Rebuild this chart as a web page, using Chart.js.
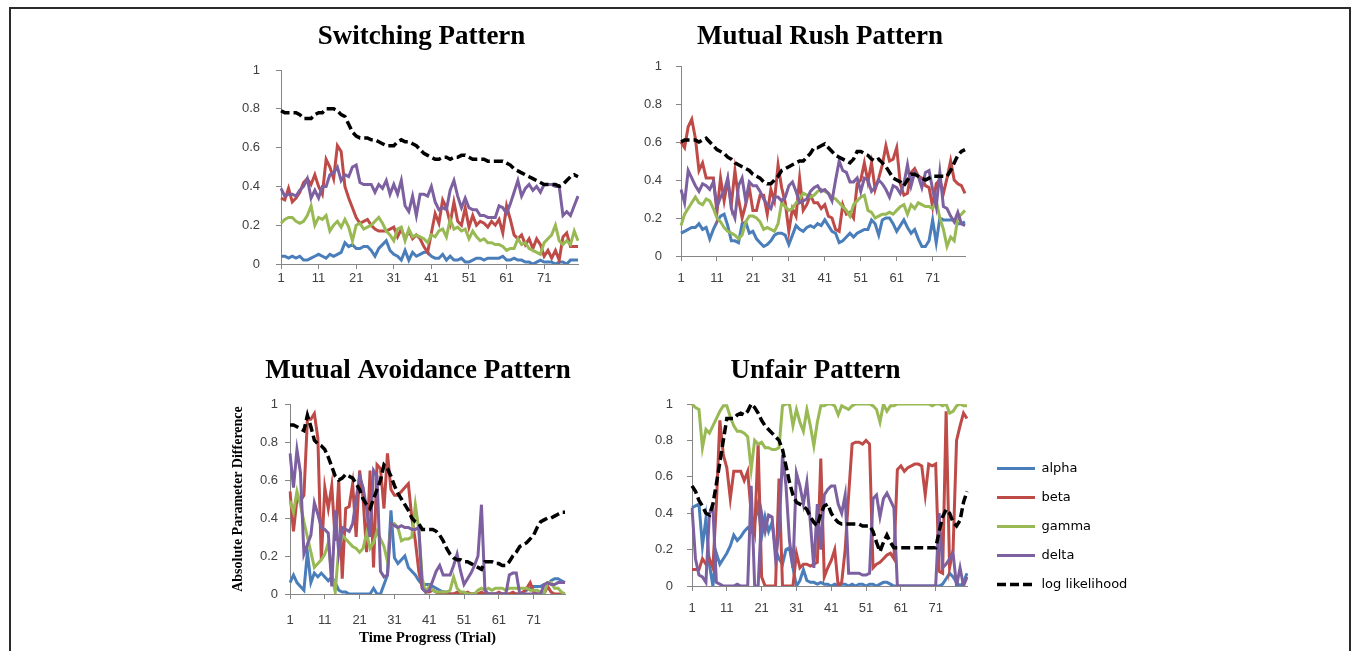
<!DOCTYPE html>
<html>
<head>
<meta charset="utf-8">
<script src="https://cdn.jsdelivr.net/npm/chart.js@4.4.0/dist/chart.umd.min.js"></script>
<style>
  html, body { margin: 0; padding: 0; background: #fff; }
  body { width: 1358px; height: 651px; position: relative; overflow: hidden; }
  .frame { position: absolute; left: 9px; top: 7px; width: 1342px; height: 700px; border: 2px solid #2b2b2b; box-sizing: border-box; }
  .panel { position: absolute; }
</style>
</head>
<body>
<div class="frame"></div>
<div class="panel" style="left:235px;top:12px;width:373px;height:282px"><canvas id="switchingChart"></canvas></div>
<div class="panel" style="left:635px;top:12px;width:370px;height:279px"><canvas id="rushChart"></canvas></div>
<div class="panel" style="left:228px;top:346px;width:380px;height:305px"><canvas id="avoidChart"></canvas></div>
<div class="panel" style="left:646px;top:346px;width:339px;height:275px"><canvas id="unfairChart"></canvas></div>
<div class="panel" style="left:981px;top:446px;width:360px;height:180px"><canvas id="legendChart"></canvas></div>

<script>
// trial numbers on the x axis
const trials = ['1','2','3','4','5','6','7','8','9','10','11','12','13','14','15','16','17','18','19','20',
  '21','22','23','24','25','26','27','28','29','30','31','32','33','34','35','36','37','38','39','40',
  '41','42','43','44','45','46','47','48','49','50','51','52','53','54','55','56','57','58','59','60',
  '61','62','63','64','65','66','67','68','69','70','71','72','73','74','75','76','77','78','79','80'];

// Switching Pattern
const swAlpha = [0.04, 0.04, 0.03, 0.04, 0.03, 0.04, 0.02, 0.02, 0.03, 0.04,
  0.05, 0.04, 0.03, 0.05, 0.04, 0.05, 0.06, 0.11, 0.09, 0.10,
  0.08, 0.08, 0.09, 0.09, 0.07, 0.04, 0.08, 0.10, 0.12, 0.07,
  0.05, 0.04, 0.02, 0.07, 0.02, 0.06, 0.04, 0.05, 0.06, 0.06,
  0.04, 0.03, 0.03, 0.05, 0.02, 0.04, 0.02, 0.02, 0.03, 0.01,
  0.01, 0.02, 0.03, 0.03, 0.02, 0.03, 0.03, 0.03, 0.03, 0.04,
  0.02, 0.02, 0.03, 0.02, 0.02, 0.01, 0.01, 0.00, 0.01, 0.02,
  0.01, 0.01, 0.01, 0.00, 0.01, 0.01, 0.00, 0.02, 0.02, 0.02];
const swBeta = [0.34, 0.33, 0.39, 0.32, 0.34, 0.37, 0.42, 0.44, 0.41, 0.46,
  0.40, 0.36, 0.54, 0.50, 0.44, 0.61, 0.58, 0.40, 0.34, 0.29,
  0.24, 0.21, 0.22, 0.23, 0.20, 0.18, 0.17, 0.17, 0.17, 0.18,
  0.19, 0.14, 0.18, 0.13, 0.17, 0.13, 0.15, 0.13, 0.09, 0.06,
  0.16, 0.26, 0.21, 0.33, 0.29, 0.21, 0.32, 0.22, 0.20, 0.29,
  0.19, 0.25, 0.20, 0.22, 0.21, 0.19, 0.22, 0.20, 0.23, 0.16,
  0.30, 0.23, 0.15, 0.13, 0.15, 0.10, 0.13, 0.08, 0.13, 0.10,
  0.04, 0.07, 0.03, 0.07, 0.02, 0.14, 0.16, 0.09, 0.09, 0.09];
const swGamma = [0.21, 0.23, 0.24, 0.24, 0.22, 0.21, 0.22, 0.25, 0.30, 0.20,
  0.24, 0.23, 0.25, 0.17, 0.20, 0.22, 0.19, 0.23, 0.19, 0.12,
  0.20, 0.21, 0.18, 0.19, 0.20, 0.22, 0.24, 0.21, 0.17, 0.15,
  0.12, 0.18, 0.19, 0.12, 0.18, 0.14, 0.15, 0.14, 0.13, 0.11,
  0.15, 0.14, 0.17, 0.18, 0.14, 0.23, 0.18, 0.19, 0.17, 0.18,
  0.13, 0.17, 0.14, 0.12, 0.13, 0.11, 0.11, 0.10, 0.10, 0.09,
  0.07, 0.08, 0.08, 0.13, 0.10, 0.11, 0.08, 0.07, 0.06, 0.05,
  0.11, 0.13, 0.15, 0.20, 0.12, 0.10, 0.12, 0.10, 0.17, 0.12];
const swDelta = [0.39, 0.35, 0.36, 0.36, 0.35, 0.38, 0.40, 0.44, 0.34, 0.38,
  0.34, 0.40, 0.40, 0.46, 0.47, 0.50, 0.43, 0.46, 0.45, 0.50,
  0.51, 0.42, 0.41, 0.41, 0.41, 0.37, 0.41, 0.39, 0.43, 0.36,
  0.41, 0.36, 0.43, 0.30, 0.27, 0.35, 0.25, 0.36, 0.36, 0.35,
  0.40, 0.32, 0.28, 0.29, 0.28, 0.38, 0.43, 0.35, 0.29, 0.34,
  0.29, 0.28, 0.28, 0.25, 0.25, 0.24, 0.24, 0.24, 0.30, 0.29,
  0.26, 0.31, 0.37, 0.43, 0.35, 0.39, 0.41, 0.38, 0.40, 0.37,
  0.41, 0.41, 0.41, 0.40, 0.40, 0.25, 0.27, 0.25, 0.30, 0.35];
const swLogLik = [0.79, 0.78, 0.78, 0.78, 0.78, 0.77, 0.75, 0.75, 0.75, 0.77,
  0.78, 0.78, 0.80, 0.80, 0.80, 0.79, 0.77, 0.76, 0.72, 0.68,
  0.66, 0.65, 0.65, 0.65, 0.64, 0.64, 0.63, 0.62, 0.61, 0.61,
  0.61, 0.63, 0.64, 0.63, 0.63, 0.62, 0.61, 0.59, 0.57, 0.56,
  0.55, 0.54, 0.54, 0.55, 0.55, 0.54, 0.55, 0.55, 0.56, 0.56,
  0.55, 0.54, 0.54, 0.54, 0.54, 0.53, 0.53, 0.53, 0.53, 0.53,
  0.52, 0.51, 0.49, 0.48, 0.47, 0.46, 0.45, 0.44, 0.43, 0.42,
  0.41, 0.41, 0.41, 0.41, 0.40, 0.41, 0.43, 0.45, 0.46, 0.45];

// Mutual Rush Pattern
const ruAlpha = [0.12, 0.13, 0.14, 0.15, 0.15, 0.17, 0.14, 0.15, 0.09, 0.14,
  0.18, 0.21, 0.22, 0.16, 0.08, 0.08, 0.07, 0.17, 0.18, 0.12,
  0.13, 0.09, 0.07, 0.05, 0.06, 0.08, 0.11, 0.12, 0.12, 0.11,
  0.06, 0.11, 0.16, 0.14, 0.13, 0.15, 0.16, 0.15, 0.17, 0.16,
  0.19, 0.16, 0.13, 0.12, 0.07, 0.08, 0.10, 0.12, 0.10, 0.12,
  0.13, 0.14, 0.14, 0.19, 0.17, 0.11, 0.19, 0.20, 0.20, 0.17,
  0.13, 0.16, 0.19, 0.15, 0.12, 0.14, 0.09, 0.05, 0.05, 0.08,
  0.19, 0.07, 0.20, 0.19, 0.19, 0.19, 0.19, 0.17, 0.17, 0.18];
const ruBeta = [0.60, 0.57, 0.68, 0.72, 0.62, 0.45, 0.49, 0.41, 0.41, 0.41,
  0.23, 0.41, 0.29, 0.40, 0.27, 0.45, 0.30, 0.20, 0.27, 0.36,
  0.24, 0.24, 0.32, 0.32, 0.22, 0.35, 0.29, 0.48, 0.36, 0.28,
  0.13, 0.25, 0.21, 0.41, 0.24, 0.27, 0.32, 0.28, 0.28, 0.25,
  0.27, 0.21, 0.20, 0.14, 0.13, 0.27, 0.22, 0.23, 0.20, 0.38,
  0.40, 0.49, 0.39, 0.49, 0.35, 0.41, 0.48, 0.58, 0.50, 0.51,
  0.57, 0.38, 0.32, 0.33, 0.44, 0.46, 0.42, 0.41, 0.37, 0.36,
  0.26, 0.38, 0.40, 0.33, 0.41, 0.50, 0.40, 0.38, 0.37, 0.33];
const ruGamma = [0.16, 0.22, 0.25, 0.28, 0.31, 0.28, 0.27, 0.30, 0.29, 0.25,
  0.20, 0.18, 0.15, 0.13, 0.12, 0.11, 0.09, 0.11, 0.18, 0.21,
  0.21, 0.20, 0.18, 0.14, 0.15, 0.14, 0.13, 0.17, 0.28, 0.26,
  0.24, 0.25, 0.28, 0.30, 0.33, 0.32, 0.31, 0.32, 0.34, 0.35,
  0.34, 0.33, 0.31, 0.30, 0.28, 0.26, 0.24, 0.21, 0.27, 0.29,
  0.31, 0.32, 0.24, 0.23, 0.20, 0.21, 0.22, 0.22, 0.23, 0.22,
  0.24, 0.26, 0.27, 0.22, 0.27, 0.25, 0.28, 0.27, 0.26, 0.26,
  0.25, 0.29, 0.20, 0.14, 0.05, 0.10, 0.08, 0.20, 0.22, 0.24];
const ruDelta = [0.35, 0.28, 0.45, 0.41, 0.37, 0.34, 0.38, 0.37, 0.35, 0.39,
  0.26, 0.31, 0.34, 0.41, 0.25, 0.20, 0.37, 0.41, 0.29, 0.39,
  0.37, 0.37, 0.34, 0.30, 0.27, 0.25, 0.31, 0.31, 0.29, 0.31,
  0.37, 0.39, 0.34, 0.28, 0.29, 0.30, 0.34, 0.36, 0.37, 0.34,
  0.35, 0.33, 0.29, 0.40, 0.50, 0.45, 0.44, 0.39, 0.39, 0.41,
  0.34, 0.41, 0.40, 0.34, 0.36, 0.40, 0.38, 0.35, 0.31, 0.37,
  0.36, 0.33, 0.38, 0.48, 0.37, 0.44, 0.42, 0.36, 0.44, 0.45,
  0.35, 0.26, 0.44, 0.26, 0.25, 0.21, 0.18, 0.23, 0.17, 0.16];
const ruLogLik = [0.60, 0.61, 0.61, 0.61, 0.61, 0.60, 0.61, 0.62, 0.60, 0.58,
  0.56, 0.55, 0.54, 0.52, 0.51, 0.49, 0.48, 0.47, 0.46, 0.45,
  0.43, 0.42, 0.41, 0.39, 0.38, 0.38, 0.40, 0.42, 0.45, 0.46,
  0.47, 0.48, 0.49, 0.50, 0.50, 0.52, 0.54, 0.57, 0.57, 0.58,
  0.59, 0.57, 0.55, 0.53, 0.52, 0.51, 0.50, 0.49, 0.51, 0.55,
  0.55, 0.54, 0.53, 0.51, 0.50, 0.51, 0.49, 0.47, 0.44, 0.41,
  0.40, 0.39, 0.37, 0.40, 0.43, 0.43, 0.42, 0.41, 0.40, 0.41,
  0.42, 0.42, 0.42, 0.42, 0.42, 0.45, 0.49, 0.53, 0.55, 0.56];

// Mutual Avoidance Pattern
const avAlpha = [0.06, 0.10, 0.06, 0.04, 0.02, 0.22, 0.06, 0.11, 0.09, 0.11,
  0.09, 0.07, 0.09, 0.06, 0.02, 0.01, 0.01, 0.00, 0.00, 0.00,
  0.00, 0.00, 0.00, 0.00, 0.03, 0.00, 0.00, 0.05, 0.10, 0.44,
  0.19, 0.16, 0.18, 0.20, 0.14, 0.12, 0.10, 0.07, 0.05, 0.05,
  0.05, 0.04, 0.03, 0.02, 0.01, 0.01, 0.00, 0.00, 0.00, 0.00,
  0.00, 0.00, 0.00, 0.00, 0.00, 0.00, 0.00, 0.00, 0.00, 0.00,
  0.00, 0.00, 0.00, 0.00, 0.00, 0.00, 0.00, 0.01, 0.02, 0.03,
  0.04, 0.04, 0.04, 0.05, 0.05, 0.07, 0.08, 0.08, 0.07, 0.06];
const avBeta = [0.54, 0.33, 0.50, 0.49, 0.52, 0.92, 0.92, 0.95, 0.82, 0.18,
  0.56, 0.45, 0.57, 0.28, 0.60, 0.08, 0.45, 0.46, 0.58, 0.30,
  0.65, 0.50, 0.22, 0.65, 0.14, 0.68, 0.66, 0.45, 0.74, 0.55,
  0.52, 0.52, 0.54, 0.56, 0.58, 0.40, 0.28, 0.12, 0.03, 0.01,
  0.01, 0.02, 0.01, 0.00, 0.01, 0.00, 0.00, 0.00, 0.01, 0.00,
  0.00, 0.01, 0.00, 0.00, 0.00, 0.01, 0.00, 0.00, 0.00, 0.00,
  0.01, 0.00, 0.00, 0.00, 0.01, 0.00, 0.00, 0.01, 0.03, 0.06,
  0.01, 0.00, 0.00, 0.00, 0.04, 0.01, 0.00, 0.00, 0.00, 0.00];
const avGamma = [0.49, 0.43, 0.54, 0.47, 0.38, 0.30, 0.22, 0.14, 0.16, 0.18,
  0.21, 0.27, 0.10, 0.01, 0.24, 0.31, 0.29, 0.27, 0.25, 0.24,
  0.22, 0.24, 0.32, 0.24, 0.27, 0.33, 0.29, 0.25, 0.17, 0.36,
  0.37, 0.35, 0.28, 0.29, 0.29, 0.30, 0.47, 0.34, 0.08, 0.01,
  0.04, 0.02, 0.01, 0.01, 0.01, 0.01, 0.02, 0.09, 0.03, 0.01,
  0.01, 0.00, 0.00, 0.00, 0.02, 0.03, 0.02, 0.03, 0.02, 0.03,
  0.03, 0.03, 0.02, 0.03, 0.03, 0.03, 0.03, 0.03, 0.03, 0.02,
  0.02, 0.02, 0.01, 0.00, 0.06, 0.06, 0.03, 0.03, 0.01, 0.00];
const avDelta = [0.74, 0.56, 0.76, 0.64, 0.21, 0.26, 0.31, 0.48, 0.42, 0.35,
  0.34, 0.32, 0.04, 0.44, 0.22, 0.35, 0.34, 0.33, 0.37, 0.50,
  0.62, 0.56, 0.45, 0.30, 0.65, 0.62, 0.12, 0.09, 0.10, 0.37,
  0.36, 0.35, 0.36, 0.35, 0.35, 0.34, 0.34, 0.35, 0.03, 0.01,
  0.02, 0.07, 0.12, 0.15, 0.10, 0.10, 0.10, 0.15, 0.21, 0.12,
  0.05, 0.08, 0.11, 0.15, 0.20, 0.47, 0.02, 0.00, 0.00, 0.00,
  0.00, 0.00, 0.00, 0.10, 0.11, 0.11, 0.00, 0.00, 0.00, 0.00,
  0.00, 0.00, 0.00, 0.05, 0.06, 0.05, 0.05, 0.06, 0.06, 0.06];
const avLogLik = [0.89, 0.89, 0.88, 0.87, 0.86, 0.94, 0.88, 0.81, 0.79, 0.78,
  0.76, 0.72, 0.67, 0.62, 0.60, 0.61, 0.63, 0.62, 0.61, 0.58,
  0.55, 0.50, 0.47, 0.45, 0.50, 0.55, 0.60, 0.68, 0.66, 0.62,
  0.57, 0.53, 0.50, 0.47, 0.44, 0.40, 0.38, 0.37, 0.34, 0.34,
  0.34, 0.34, 0.33, 0.31, 0.28, 0.24, 0.21, 0.19, 0.18, 0.18,
  0.17, 0.17, 0.16, 0.15, 0.14, 0.13, 0.17, 0.17, 0.17, 0.16,
  0.16, 0.15, 0.15, 0.17, 0.20, 0.22, 0.25, 0.26, 0.27, 0.29,
  0.31, 0.35, 0.38, 0.39, 0.40, 0.40, 0.41, 0.42, 0.43, 0.43];

// Unfair Pattern
const unAlpha = [0.43, 0.44, 0.45, 0.22, 0.37, 0.12, 0.00, 0.18, 0.12, 0.15,
  0.18, 0.22, 0.28, 0.25, 0.27, 0.30, 0.32, 0.30, 0.35, 0.45,
  0.27, 0.38, 0.30, 0.35, 0.20, 0.15, 0.12, 0.20, 0.21, 0.10,
  0.00, 0.03, 0.09, 0.03, 0.02, 0.02, 0.01, 0.02, 0.01, 0.01,
  0.00, 0.01, 0.00, 0.01, 0.01, 0.00, 0.01, 0.00, 0.01, 0.01,
  0.00, 0.01, 0.01, 0.00, 0.01, 0.02, 0.02, 0.01, 0.00, 0.00,
  0.00, 0.00, 0.00, 0.00, 0.00, 0.00, 0.00, 0.00, 0.00, 0.00,
  0.00, 0.00, 0.01, 0.04, 0.07, 0.05, 0.02, 0.00, 0.02, 0.07];
const unBeta = [0.09, 0.09, 0.09, 0.15, 0.12, 0.15, 0.10, 0.45, 0.91, 0.72,
  0.65, 0.48, 0.63, 0.63, 0.63, 0.58, 0.63, 0.40, 0.30, 0.78,
  0.05, 0.00, 0.00, 0.00, 0.00, 0.59, 0.00, 0.00, 0.00, 0.00,
  0.18, 0.10, 0.12, 0.12, 0.11, 0.12, 0.13, 0.70, 0.05, 0.10,
  0.14, 0.20, 0.00, 0.02, 0.20, 0.50, 0.78, 0.79, 0.79, 0.78,
  0.80, 0.78, 0.10, 0.12, 0.13, 0.15, 0.17, 0.18, 0.15, 0.64,
  0.66, 0.63, 0.65, 0.66, 0.67, 0.67, 0.66, 0.50, 0.67, 0.66,
  0.67, 0.08, 0.07, 0.96, 0.10, 0.20, 0.80, 0.88, 0.95, 0.92];
const unGamma = [1.00, 0.98, 0.97, 0.76, 0.86, 0.84, 0.88, 0.92, 0.96, 0.99,
  0.99, 0.93, 0.88, 0.85, 0.85, 0.84, 0.82, 0.64, 0.80, 0.78,
  0.79, 0.76, 0.76, 0.75, 0.75, 0.76, 0.99, 1.00, 1.00, 0.88,
  0.97, 0.90, 0.85, 0.97, 0.88, 0.77, 0.90, 0.99, 0.99, 1.00,
  1.00, 0.99, 0.94, 0.99, 0.98, 0.97, 0.99, 1.00, 1.00, 1.00,
  1.00, 1.00, 0.99, 0.97, 0.90, 1.00, 0.96, 0.99, 0.99, 1.00,
  1.00, 1.00, 1.00, 1.00, 1.00, 1.00, 1.00, 1.00, 1.00, 0.99,
  1.00, 1.00, 0.99, 1.00, 0.95, 0.96, 0.99, 1.00, 0.99, 0.99];
const unDelta = [0.43, 0.15, 0.06, 0.05, 0.02, 0.40, 0.43, 0.02, 0.01, 0.00,
  0.00, 0.00, 0.00, 0.01, 0.00, 0.00, 0.00, 0.55, 0.00, 0.00,
  0.40, 0.30, 0.39, 0.38, 0.15, 0.30, 0.72, 0.55, 0.25, 0.10,
  0.62, 0.55, 0.45, 0.57, 0.35, 0.10, 0.45, 0.20, 0.50, 0.53,
  0.55, 0.55, 0.45, 0.40, 0.50, 0.07, 0.07, 0.07, 0.07, 0.06,
  0.06, 0.07, 0.48, 0.50, 0.38, 0.48, 0.51, 0.47, 0.43, 0.00,
  0.00, 0.00, 0.00, 0.00, 0.00, 0.00, 0.00, 0.00, 0.00, 0.00,
  0.00, 0.40, 0.10, 0.12, 0.15, 0.18, 0.00, 0.10, 0.00, 0.05];
const unLogLik = [0.55, 0.52, 0.47, 0.44, 0.40, 0.39, 0.45, 0.56, 0.68, 0.80,
  0.92, 0.92, 0.92, 0.94, 0.95, 0.94, 0.96, 1.00, 0.98, 0.95,
  0.91, 0.88, 0.86, 0.84, 0.82, 0.80, 0.75, 0.66, 0.57, 0.50,
  0.46, 0.45, 0.44, 0.42, 0.38, 0.35, 0.33, 0.40, 0.44, 0.45,
  0.40, 0.37, 0.35, 0.34, 0.34, 0.34, 0.34, 0.34, 0.34, 0.33,
  0.33, 0.33, 0.30, 0.24, 0.19, 0.24, 0.28, 0.24, 0.21, 0.21,
  0.21, 0.21, 0.21, 0.21, 0.21, 0.21, 0.21, 0.21, 0.21, 0.21,
  0.21, 0.30, 0.38, 0.42, 0.40, 0.35, 0.33, 0.36, 0.46, 0.52];

const seriesNames = ['alpha', 'beta', 'gamma', 'delta', 'log likelihood'];
const seriesColors = ['#4a7ebb', '#be4b48', '#98b954', '#7d60a0', '#000000'];

Chart.defaults.font.family = "'Liberation Sans', Arial, sans-serif";
Chart.defaults.font.size = 13;
Chart.defaults.color = '#404040';
Chart.defaults.animation = false;

const serifBold = "'Liberation Serif', 'Times New Roman', serif";
const axisGrey = '#868686';

function buildDatasets(values) {
  return values.map((data, i) => ({
    label: seriesNames[i],
    data: data,
    borderColor: seriesColors[i],
    backgroundColor: seriesColors[i],
    borderWidth: i === 4 ? 3.5 : 3,
    borderDash: i === 4 ? [9, 4] : [],
    pointRadius: 0,
    fill: false,
    tension: 0,
    order: 5 - i   // later series drawn on top, like the original
  }));
}

function drawPanel(canvasId, title, values, opts) {
  new Chart(document.getElementById(canvasId), {
    type: 'line',
    data: { labels: trials, datasets: buildDatasets(values) },
    options: {
      responsive: true,
      maintainAspectRatio: false,
      layout: { padding: 0 },
      plugins: {
        legend: { display: false },
        tooltip: { enabled: false },
        title: {
          display: true,
          text: title,
          color: '#000',
          font: { family: serifBold, size: 27, weight: 'bold' },
          padding: { top: 9, bottom: opts.titleGap }
        }
      },
      scales: {
        x: {
          grid: { drawOnChartArea: false, color: axisGrey, tickLength: 5 },
          border: { color: axisGrey },
          ticks: {
            autoSkip: false,
            maxRotation: 0,
            padding: opts.xPad,
            callback: (value, index) => index % 10 === 0 ? trials[index] : null
          },
          title: opts.xTitle ? {
            display: true,
            text: opts.xTitle,
            color: '#000',
            font: { family: serifBold, size: 15, weight: 'bold' },
            padding: { top: 0, bottom: 4 }
          } : { display: false },
          afterFit: s => { s.height = opts.xHeight; }
        },
        y: {
          min: 0,
          max: 1,
          ticks: {
            stepSize: 0.2,
            padding: opts.yPad,
            callback: value => String(Number(value.toFixed(1)))
          },
          grid: { drawOnChartArea: false, color: axisGrey, tickLength: 5 },
          border: { color: axisGrey },
          title: opts.yTitle ? {
            display: true,
            text: opts.yTitle,
            color: '#000',
            font: { family: serifBold, size: 14, weight: 'bold' },
            padding: { top: 1.6, bottom: 0 }
          } : { display: false },
          afterFit: s => { s.width = opts.yWidth; }
        },
        // empty right-hand spacer so the title sits where it did in the original
        spacer: {
          type: 'linear',
          position: 'right',
          display: true,
          ticks: { display: false },
          grid: { display: false },
          border: { display: false },
          afterFit: s => { s.width = opts.rightSpace; }
        }
      }
    }
  });
}

drawPanel('switchingChart', 'Switching Pattern',
  [swAlpha, swBeta, swGamma, swDelta, swLogLik],
  { yWidth: 46, rightSpace: 30, titleGap: 16.6, xHeight: 30, xPad: 2, yPad: 16 });

drawPanel('rushChart', 'Mutual Rush Pattern',
  [ruAlpha, ruBeta, ruGamma, ruDelta, ruLogLik],
  { yWidth: 46, rightSpace: 40, titleGap: 12.6, xHeight: 35, xPad: 10, yPad: 14 });

drawPanel('avoidChart', 'Mutual Avoidance Pattern',
  [avAlpha, avBeta, avGamma, avDelta, avLogLik],
  { yWidth: 62, rightSpace: 43, titleGap: 16.6, xHeight: 57, xPad: 14, yPad: 7,
    xTitle: 'Time Progress (Trial)', yTitle: 'Absolute Parameter Difference' });

drawPanel('unfairChart', 'Unfair Pattern',
  [unAlpha, unBeta, unGamma, unDelta, unLogLik],
  { yWidth: 46, rightSpace: 18, titleGap: 16.6, xHeight: 35, xPad: 10, yPad: 14 });

// shared legend
new Chart(document.getElementById('legendChart'), {
  type: 'line',
  data: { labels: [], datasets: buildDatasets([[], [], [], [], []]) },
  options: {
    responsive: true,
    maintainAspectRatio: false,
    scales: { x: { display: false }, y: { display: false } },
    plugins: {
      tooltip: { enabled: false },
      legend: {
        position: 'left',
        align: 'start',
        labels: {
          usePointStyle: true,
          pointStyle: 'line',
          pointStyleWidth: 38,
          boxHeight: 13,
          padding: 16,
          color: '#222',
          font: { family: "'DejaVu Sans', sans-serif", size: 13 },
          generateLabels: chart => chart.data.datasets.map((ds, i) => ({
            text: ds.label,
            strokeStyle: ds.borderColor,
            fillStyle: ds.borderColor,
            lineWidth: ds.borderWidth,
            lineDash: ds.borderDash,
            pointStyle: 'line',
            hidden: false,
            datasetIndex: i
          }))
        }
      }
    }
  }
});
</script>
</body>
</html>
